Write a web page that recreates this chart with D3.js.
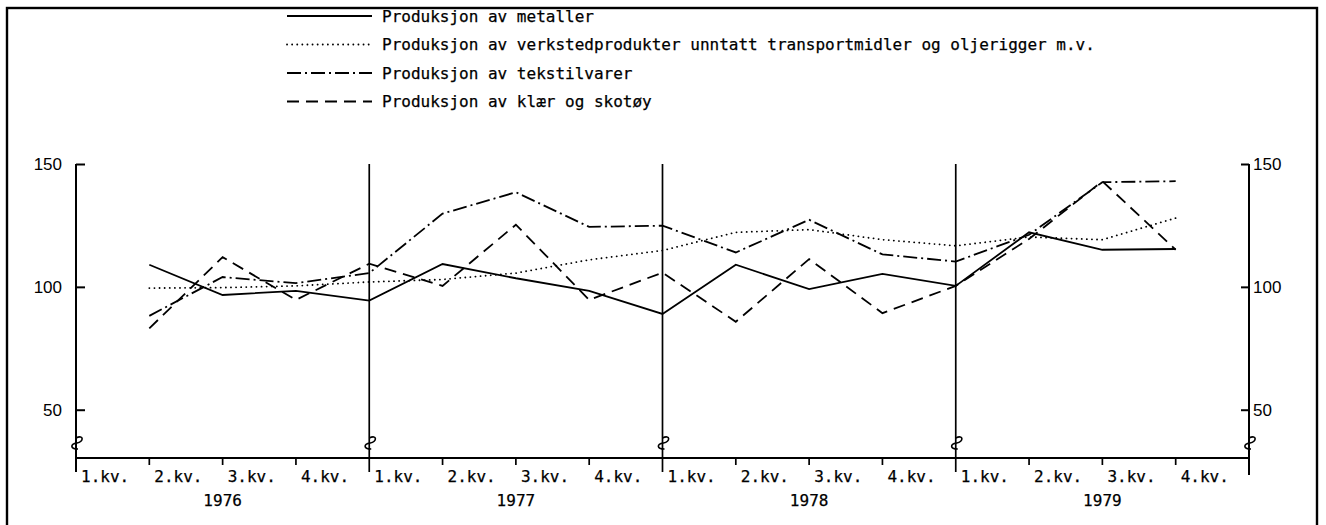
<!DOCTYPE html>
<html lang="no">
<head>
  <meta charset="UTF-8" />
  <title>Produksjonsindekser 1976-1979</title>
  <script src="https://d3js.org/d3.v7.min.js"></script>
  <style>
    body {
      margin: 0;
      background: #fff;
    }
    .mono {
      font-family: "DejaVu Sans Mono", "Liberation Mono", monospace;
      font-size: 16px;
      fill: #000;
      stroke: #000;
      stroke-width: 0.25;
    }
    .axis text {
      font-family: "Liberation Sans", Arial, sans-serif;
      font-size: 17px;
      fill: #000;
    }
    .axis line {
      stroke: #000;
      stroke-width: 2;
    }
    .series {
      fill: none;
      stroke: #000;
      stroke-width: 1.8;
    }
  </style>
</head>
<body>
  <svg width="1326" height="525"></svg>

  <script>
    // quarterly index values, 1. kv. 1976 - 3. kv. 1979
    const years = ["1976", "1977", "1978", "1979"];
    const quarterLabels = ["1.kv.", "2.kv.", "3.kv.", "4.kv."];
    const yTicks = [50, 100, 150];

    const metaller  = [109.0, 96.7, 98.4, 94.4, 109.3, 103.5, 98.4, 89.0, 109.0, 99.1, 105.3, 100.4, 122.2, 115.1, 115.4];
    const verksted  = [99.5, 99.7, 100.4, 102.0, 103.0, 105.6, 111.0, 114.8, 122.2, 123.3, 119.2, 116.7, 120.3, 119.2, 128.0];
    const tekstil   = [88.2, 104.0, 101.5, 105.6, 129.8, 138.5, 124.4, 124.9, 114.0, 127.3, 113.2, 110.3, 121.2, 142.6, 143.0];
    const klaer     = [83.1, 112.1, 94.7, 109.4, 100.4, 125.3, 94.7, 105.8, 85.8, 111.3, 89.3, 100.4, 119.5, 143.0, 115.1];

    const seriesNames = [
      "Produksjon av metaller",
      "Produksjon av verkstedprodukter unntatt transportmidler og oljerigger m.v.",
      "Produksjon av tekstilvarer",
      "Produksjon av klær og skotøy"
    ];

    const svg = d3.select("svg");

    const series = [
      { name: seriesNames[0], values: metaller, dash: null, cap: "butt", w: 1.8 },
      { name: seriesNames[1], values: verksted, dash: "0.1,5", cap: "round", w: 2.9 },
      { name: seriesNames[2], values: tekstil, dash: "14,4,2,4", cap: "butt", w: 2 },
      { name: seriesNames[3], values: klaer, dash: "12,7", cap: "butt", w: 2 }
    ];

    const plotLeft = 76, plotRight = 1249, plotTop = 164, plotBottom = 458;
    const nQ = years.length * quarterLabels.length;

    const x = d3.scaleLinear().domain([0, nQ]).range([plotLeft, plotRight]);
    const y = d3.scaleLinear().domain([30.35, 150]).range([plotBottom, plotTop]);

    // outer frame
    svg.append("rect")
      .attr("x", 7).attr("y", 8)
      .attr("width", 1310).attr("height", 540)
      .attr("fill", "none")
      .attr("stroke", "#000")
      .attr("stroke-width", 2.4);

    // legend
    const legend = svg.append("g");
    series.forEach((s, i) => {
      const ly = 16 + i * 28.5;
      legend.append("line")
        .attr("class", "series")
        .attr("x1", 287).attr("x2", 372)
        .attr("y1", ly).attr("y2", ly)
        .attr("stroke-dasharray", s.dash)
        .attr("stroke-linecap", s.cap)
        .attr("stroke-width", s.w);
      legend.append("text")
        .attr("class", "mono")
        .attr("x", 382).attr("y", ly)
        .attr("dy", "0.35em")
        .text(s.name);
    });

    // year separators
    const seps = d3.range(1, years.length).map(k => k * 4);
    svg.append("g")
      .selectAll("line")
      .data(seps)
      .join("line")
        .attr("x1", d => x(d)).attr("x2", d => x(d))
        .attr("y1", plotTop).attr("y2", 472)
        .attr("stroke", "#000")
        .attr("stroke-width", 1.7);

    // y axes, ticks pointing inward
    svg.append("g")
      .attr("class", "axis")
      .attr("transform", `translate(${plotLeft},0)`)
      .call(d3.axisLeft(y).tickValues(yTicks).tickSize(-9).tickPadding(14).tickSizeOuter(0))
      .call(g => g.select(".domain").remove());

    svg.append("g")
      .attr("class", "axis")
      .attr("transform", `translate(${plotRight},0)`)
      .call(d3.axisRight(y).tickValues(yTicks).tickSize(-8).tickPadding(4).tickSizeOuter(0))
      .call(g => g.select(".domain").remove())
      .call(g => g.selectAll("text").attr("text-anchor", "start"));

    svg.append("line")
      .attr("x1", plotLeft).attr("x2", plotLeft)
      .attr("y1", plotTop).attr("y2", 472)
      .attr("stroke", "#000").attr("stroke-width", 2);
    svg.append("line")
      .attr("x1", plotRight).attr("x2", plotRight)
      .attr("y1", plotTop).attr("y2", 475)
      .attr("stroke", "#000").attr("stroke-width", 2);

    // x axis line with quarter ticks
    svg.append("line")
      .attr("x1", plotLeft).attr("x2", plotRight)
      .attr("y1", plotBottom).attr("y2", plotBottom)
      .attr("stroke", "#000").attr("stroke-width", 2);

    const qTicks = d3.range(1, nQ).filter(d => d % 4 !== 0);
    svg.append("g")
      .selectAll("line")
      .data(qTicks)
      .join("line")
        .attr("x1", d => x(d)).attr("x2", d => x(d))
        .attr("y1", plotBottom).attr("y2", plotBottom + 7)
        .attr("stroke", "#000")
        .attr("stroke-width", 1.7);

    // axis break marks on every vertical line
    const breaks = d3.range(0, nQ + 1, 4);
    svg.append("g")
      .selectAll("path.brk")
      .data(breaks)
      .join("path")
        .attr("d", d => {
          const bx = x(d);
          return `M${bx},438 c 8,-4 8,4 1,5 c -7,1 -7,6 1,6`;
        })
        .attr("fill", "none")
        .attr("stroke", "#000")
        .attr("stroke-width", 1.6);

    // quarter and year labels
    const qData = d3.range(nQ);
    svg.append("g")
      .selectAll("text")
      .data(qData)
      .join("text")
        .attr("class", "mono")
        .attr("x", d => x(d) + 5)
        .attr("y", 482)
        .text(d => quarterLabels[d % 4]);

    svg.append("g")
      .selectAll("text")
      .data(years)
      .join("text")
        .attr("class", "mono")
        .attr("x", (d, i) => x(i * 4 + 2))
        .attr("y", 506)
        .attr("text-anchor", "middle")
        .text(d => d);

    // series lines, each value plotted at the end of its quarter
    const line = d3.line()
      .x((d, i) => x(i + 1))
      .y(d => y(d));

    svg.append("g")
      .selectAll("path")
      .data(series)
      .join("path")
        .attr("class", "series")
        .attr("d", d => line(d.values))
        .attr("stroke-dasharray", d => d.dash)
        .attr("stroke-linecap", d => d.cap)
        .attr("stroke-width", d => d.w);
  </script>
</body>
</html>
